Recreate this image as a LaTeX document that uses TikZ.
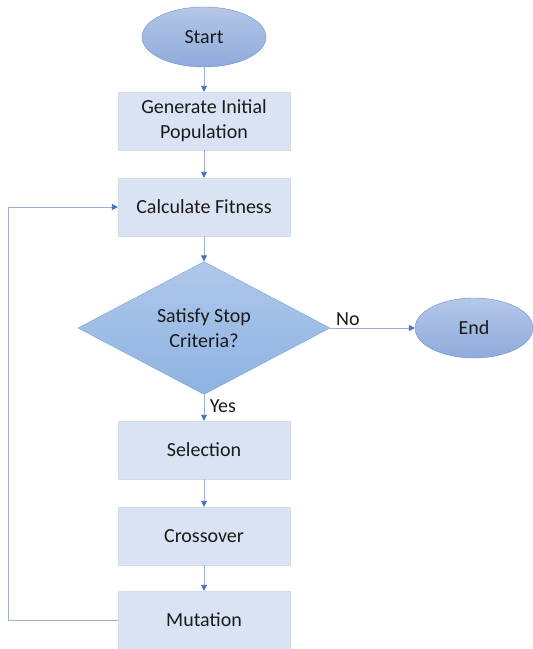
\documentclass[tikz,border=0pt]{standalone}
\usepackage{fontspec}
\setmainfont{Carlito}
\usetikzlibrary{shapes.geometric,arrows.meta}
\definecolor{boxfill}{HTML}{DAE3F3}
\definecolor{boxline}{HTML}{D5DCE8}
\definecolor{ovaltop}{HTML}{B4C7E7}
\definecolor{ovalbot}{HTML}{8FAADC}
\definecolor{ovalline}{HTML}{6F8FCB}
\definecolor{dectop}{HTML}{AFC8E9}
\definecolor{decbot}{HTML}{8DB3E2}
\definecolor{decline}{HTML}{7FA3D6}
\definecolor{flowline}{HTML}{9AB0D6}
\definecolor{tipblue}{HTML}{4472C4}
\definecolor{inktext}{HTML}{1A1A1A}
\tikzset{
  every node/.style={text=inktext, font=\fontsize{20}{25}\selectfont},
  process/.style={rectangle, draw=boxline, fill=boxfill, minimum width=172pt, minimum height=58pt, align=center},
  terminal/.style={ellipse, draw=ovalline, top color=ovaltop, bottom color=ovalbot, minimum width=124pt, minimum height=60pt, inner sep=0pt},
  decision/.style={diamond, draw=decline, top color=dectop, bottom color=decbot, minimum width=252pt, minimum height=129pt, inner sep=0pt, align=center},
  flow/.style={draw=flowline, line width=0.9pt, -{Triangle[length=6pt,width=6pt,color=tipblue]}}
}
\begin{document}
\begin{tikzpicture}[x=1pt,y=-1pt]
\useasboundingbox (0,0) rectangle (533,649);
\node[terminal] (start) at (204,37) {Start};
\node[process] (init) at (204,121) {Generate Initial\\Population};
\node[process] (fit) at (204,207) {Calculate Fitness};
\node[decision] (stop) at (204,328) {Satisfy Stop\\Criteria?};
\node[terminal, minimum width=118pt] (end) at (474,328) {End};
\node[process] (sel) at (204,450) {Selection};
\node[process] (cross) at (204,536) {Crossover};
\node[process] (mut) at (204,620) {Mutation};
\coordinate (back) at (8,620);

\draw[flow] (start) -- (init);
\draw[flow] (init) -- (fit);
\draw[flow] (fit) -- (stop);
\draw[flow] (stop) -- node[above, pos=0.21, yshift=-1pt] {No} (end);
\draw[flow] (stop) -- node[right, pos=0.45, xshift=2pt] {Yes} (sel);
\draw[flow] (sel) -- (cross);
\draw[flow] (cross) -- (mut);
\draw[flow] (mut.west) -- (back) |- (fit.west);
\end{tikzpicture}
\end{document}
